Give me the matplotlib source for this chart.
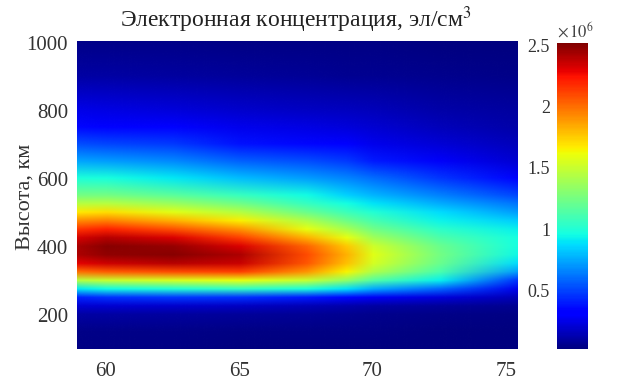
import matplotlib
matplotlib.use("Agg")
import matplotlib.pyplot as plt
from matplotlib.colors import Normalize
from matplotlib.image import NonUniformImage
import numpy as np

plt.rcParams['font.family'] = ['Liberation Serif', 'DejaVu Serif']
plt.rcParams['mathtext.fontset'] = 'stix'

W, H = 619, 382

# latitude columns, concentration in 1e6 el/cm3
heights = [100, 150, 200, 225, 250, 275, 300, 325, 350, 375, 400, 425, 450, 475, 500,
           525, 550, 600, 650, 700, 750, 800, 900, 1000]
lats = [58.9, 60, 62.5, 65, 67.5, 69, 70, 72.5, 75.45]
n_589 = [.03, .04, .10, .20, .42, .90, 1.45, 2.00, 2.30, 2.42, 2.43, 2.33, 2.15, 1.92, 1.68, 1.45, 1.25, .98, .74, .52, .35, .25, .10, .04]
n_60 = [.03, .04, .10, .20, .45, .95, 1.50, 2.05, 2.35, 2.48, 2.50, 2.40, 2.20, 1.95, 1.70, 1.45, 1.25, .97, .72, .50, .33, .24, .10, .04]
n_625 = [.03, .04, .09, .19, .47, 1.00, 1.55, 2.10, 2.40, 2.50, 2.47, 2.32, 2.08, 1.82, 1.58, 1.36, 1.17, .90, .67, .47, .31, .22, .09, .04]
n_65 = [.02, .03, .08, .17, .45, 1.05, 1.60, 2.12, 2.36, 2.42, 2.32, 2.12, 1.90, 1.66, 1.44, 1.24, 1.06, .80, .57, .38, .26, .19, .08, .03]
n_675 = [.02, .03, .07, .14, .40, .98, 1.50, 1.90, 2.07, 2.10, 2.03, 1.82, 1.60, 1.42, 1.22, 1.06, .95, .72, .52, .35, .24, .17, .07, .03]
n_69 = [.02, .03, .06, .12, .35, .88, 1.33, 1.65, 1.78, 1.82, 1.76, 1.60, 1.40, 1.23, 1.08, .96, .85, .66, .47, .31, .22, .16, .06, .03]
n_70 = [.02, .03, .05, .10, .28, .75, 1.15, 1.42, 1.54, 1.58, 1.52, 1.38, 1.24, 1.11, 1.00, .89, .78, .60, .40, .26, .20, .15, .06, .03]
n_725 = [.02, .02, .04, .08, .22, .58, .92, 1.12, 1.22, 1.25, 1.22, 1.13, 1.03, .93, .87, .76, .65, .46, .29, .21, .15, .11, .05, .02]
n_7545 = [.02, .02, .03, .06, .14, .26, .45, .72, .87, .94, .96, .96, .92, .84, .72, .62, .50, .30, .20, .15, .11, .09, .04, .02]

x_ticks = [60, 65, 70, 75]
y_ticks = [200, 400, 600, 800, 1000]
cbar_ticks = [0.5, 1, 1.5, 2, 2.5]
cbar_labels = ['0.5', '1', '1.5', '2', '2.5']


def px_axes(left, top, right, bottom):
    return fig.add_axes([left / W, 1 - bottom / H, (right - left) / W, (bottom - top) / H])


fig = plt.figure(figsize=(W / 100, H / 100), dpi=100)
ax = px_axes(76.5, 42.5, 516.5, 349)

grid = np.array([n_589, n_60, n_625, n_65, n_675, n_69, n_70, n_725, n_7545]).T
# bilinear image, gouraud left zigzag triangles around the yellow tip
im = NonUniformImage(ax, interpolation='bilinear', cmap='jet', norm=Normalize(0.02, 2.52))
im.set_data(lats, heights, grid)
ax.add_image(im)
ax.set_xlim(58.9, 75.4)
ax.set_ylim(100, 1000)
ax.set_xticks(x_ticks)
ax.set_yticks(y_ticks)
ax.tick_params(length=0, labelsize=15, colors='#333333', pad=6)
ax.tick_params(axis='x', pad=9)
for s in ax.spines.values():
    s.set_visible(False)
fig.text(25 / W, 1 - 197 / H, 'Высота, км', fontsize=16, color='#333333',
         rotation=90, ha='center', va='center')
fig.text(296 / W, 1 - 20 / H, 'Электронная концентрация, эл/см$^3$', fontsize=17,
         color='#222222', ha='center', va='center')

cax = px_axes(557, 43, 588, 349)
cbar = fig.colorbar(im, cax=cax, ticks=cbar_ticks)
cbar.ax.set_yticklabels(cbar_labels)
cbar.ax.yaxis.set_ticks_position('left')
cbar.ax.tick_params(length=0, labelsize=13, colors='#333333', pad=5)
cbar.outline.set_visible(False)
fig.text(557 / W, 1 - 31 / H, r'$\times\,10^{6}$', fontsize=12, color='#444444', ha='left', va='center')

fig.savefig('out.png', dpi=100)
